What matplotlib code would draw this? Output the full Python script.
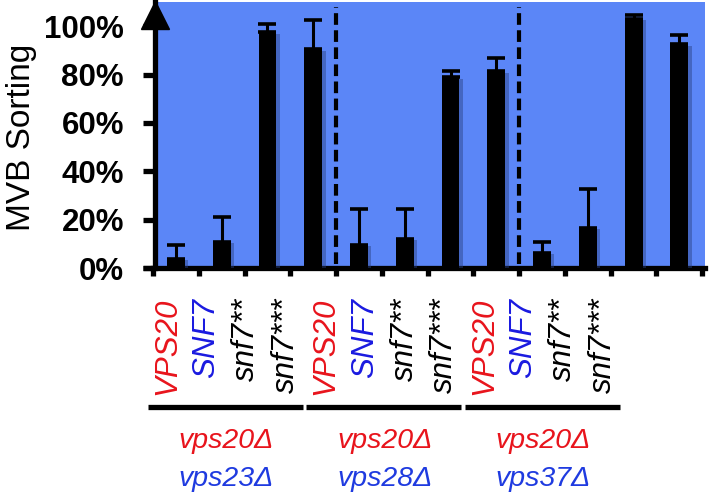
import matplotlib
matplotlib.use("Agg")
import matplotlib.pyplot as plt
import matplotlib.patheffects as pe
import numpy as np

# ---- data ----
strains = ["VPS20", "SNF7", "snf7**", "snf7***"] * 3
strain_colors = ["#E8141C", "#1A1AE0", "black", "black"] * 3
groups_top = ["vps20Δ", "vps20Δ", "vps20Δ"]
groups_bottom = ["vps23Δ", "vps28Δ", "vps37Δ"]
means = [3.7, 10.8, 97.5, 90.5, 9.5, 12.0, 78.8, 81.3, 6.2, 16.5, 103.0, 92.5]
errors = [5.8, 10.2, 3.5, 12.1, 15.0, 12.5, 2.7, 5.7, 4.7, 16.3, 1.6, 3.9]
yticks = [0, 20, 40, 60, 80, 100]
ytick_labels = ["0%", "20%", "40%", "60%", "80%", "100%"]

W, H = 709, 496
fig = plt.figure(figsize=(W / 100, H / 100), dpi=100)
plt.rcParams['font.family'] = ['Liberation Sans', 'DejaVu Sans']

def px_axes(x0, x1, ytop, ybot):
    return [x0 / W, 1 - ybot / H, (x1 - x0) / W, (ybot - ytop) / H]

bg = "#5B86F7"
ax = fig.add_axes(px_axes(153, 705, 2, 268))
ax.set_facecolor(bg)
x = np.arange(len(means))
bars = ax.bar(x, means, width=0.39, color="black", zorder=3)
for b in bars:
    b.set_path_effects([pe.SimplePatchShadow(offset=(2.5, -1), shadow_rgbFace="#2a3f80", alpha=0.45), pe.Normal()])
ax.errorbar(x, means, yerr=[np.zeros(len(errors)), errors], fmt="none",
            ecolor="black", elinewidth=2.2, capsize=6.2, capthick=2.6, zorder=4)
ax.set_xlim(-0.5, 11.56)
ax.set_ylim(0, 110)

for s in ["top", "right"]:
    ax.spines[s].set_visible(False)
ax.spines["left"].set_linewidth(3.8)
ax.spines["bottom"].set_linewidth(3.8)
ax.spines["left"].set_position(("data", -0.45))
ax.set_yticks(yticks)
ax.set_yticklabels(ytick_labels, fontsize=22.5, fontweight="bold")
ax.tick_params(axis="y", length=8.5, width=3.8, pad=14)
ax.set_xticks(np.arange(-0.5, 12, 1.0))
ax.set_xticklabels([])
ax.tick_params(axis="x", length=6, width=3.8)

# extend baseline to the left
ax.plot([-0.72, -0.45], [0, 0], color="black", lw=3.8, clip_on=False, solid_capstyle="butt", zorder=5)
# arrow at top of y axis
ax.plot([-0.45], [104.5], marker="^", markersize=20, color="black", clip_on=False, zorder=6)

# dashed separators
for xs in [3.5, 7.5]:
    ax.plot([xs, xs], [1.5, 108], color="black", lw=3.0, ls=(0, (2.8, 1.3)), zorder=2)

fig.text(22 / W, 1 - 137 / H, "MVB Sorting", rotation=90, fontsize=24,
         ha="center", va="center")

# ---- label axes ----
lab = fig.add_axes(px_axes(147.2, 622.4, 280, 496))
lab.set_xlim(-0.5, 11.5)
lab.set_ylim(496, 280)
lab.axis("off")
for i, (s, c) in enumerate(zip(strains, strain_colors)):
    lab.text(i, 298, s, rotation=90, ha="center", va="top", fontsize=22.5,
             style="italic", color=c)
for g in range(3):
    lab.plot([g * 4 - 0.48, g * 4 + 3.43], [407, 407], color="black", lw=3.8,
             solid_capstyle="butt", clip_on=False)
    lab.text(g * 4 + 1.5, 441, groups_top[g], ha="center", va="center",
             fontsize=20.5, style="italic", color="#E8141C")
    lab.text(g * 4 + 1.5, 479, groups_bottom[g], ha="center", va="center",
             fontsize=20.5, style="italic", color="#1F3BE0")

fig.savefig("out.png", dpi=100)
